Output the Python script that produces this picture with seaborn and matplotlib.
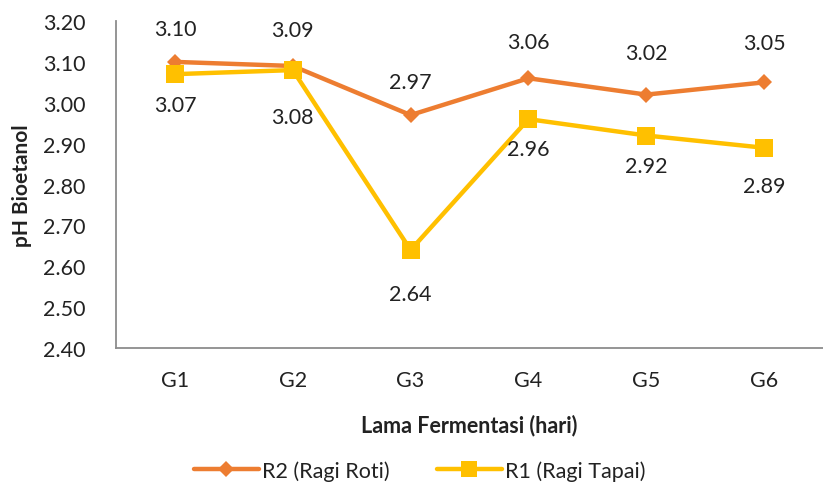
import numpy as np
import pandas as pd
import matplotlib as mpl
from matplotlib import pyplot as plt
import seaborn as sb

# data
groups = ["G1", "G2", "G3", "G4", "G5", "G6"]
ragi_roti = [3.10, 3.09, 2.97, 3.06, 3.02, 3.05]   # R2
ragi_tapai = [3.07, 3.08, 2.64, 2.96, 2.92, 2.89]  # R1
series_names = ["R2 (Ragi Roti)", "R1 (Ragi Tapai)"]
y_ticks = [2.40, 2.50, 2.60, 2.70, 2.80, 2.90, 3.00, 3.10, 3.20]

# label distance from the marker (px), as placed in the original
roti_gap = [33, 36, 33, 36, 42, 39]
tapai_gap = [31, 47, 44, 30, 30, 38]

sb.set_theme(style="white")
plt.rcParams["font.family"] = ["Lato", "DejaVu Sans"]
mpl.rcParams.update({
    "text.color": "#222222",
    "axes.labelcolor": "#222222",
    "xtick.color": "#222222",
    "ytick.color": "#222222",
})

fs = 15.5  # general text size

df = pd.DataFrame({
    "grup": groups * 2,
    "pH": ragi_roti + ragi_tapai,
    "seri": [series_names[0]] * 6 + [series_names[1]] * 6,
})
df["x"] = df["grup"].map({g: i for i, g in enumerate(groups)})

fig = plt.figure(figsize=(8.23, 4.89), dpi=100)
ax = fig.add_axes([0.141, 0.286, 0.859, 0.669])

colors = {series_names[0]: "#ED7D31", series_names[1]: "#FFC000"}
sb.lineplot(data=df, x="x", y="pH", hue="seri", style="seri",
            palette=colors, markers={series_names[0]: "D", series_names[1]: "s"},
            dashes=False, linewidth=3.2, markersize=11, markeredgewidth=0,
            ax=ax, legend=False)
# diamond smaller than the square
ax.lines[0].set_markersize(8)
ax.lines[1].set_markersize(13)

# data labels (px -> points at 100 dpi)
for i, v in enumerate(ragi_roti):
    ax.annotate(f"{v:.2f}", (i, v), xytext=(0, roti_gap[i] * 0.72), textcoords="offset points",
                ha="center", va="center", fontsize=fs)
for i, v in enumerate(ragi_tapai):
    ax.annotate(f"{v:.2f}", (i, v), xytext=(0, -tapai_gap[i] * 0.72), textcoords="offset points",
                ha="center", va="center", fontsize=fs)

ax.set_xlim(-0.5, len(groups) - 0.5)
ax.set_ylim(2.40, 3.20)
ax.set_xticks(range(len(groups)))
ax.set_xticklabels(groups, fontsize=fs)
ax.set_yticks(y_ticks)
ax.set_yticklabels([f"{t:.2f}" for t in y_ticks], fontsize=fs)
ax.tick_params(axis="x", length=0, pad=16)
ax.tick_params(axis="y", length=0, pad=22)

for s in ["top", "right"]:
    ax.spines[s].set_visible(False)
for s in ["left", "bottom"]:
    ax.spines[s].set_color("#8c8c8c")
    ax.spines[s].set_linewidth(1.3)

ax.set_xlabel("Lama Fermentasi (hari)", fontsize=fs, fontweight="bold", labelpad=17)
ax.set_ylabel("pH Bioetanol", fontsize=fs - 0.5, fontweight="bold", labelpad=8)

handles = [
    mpl.lines.Line2D([], [], color="#ED7D31", lw=3.2, marker="D", markersize=8, markeredgewidth=0),
    mpl.lines.Line2D([], [], color="#FFC000", lw=3.2, marker="s", markersize=12, markeredgewidth=0),
]
fig.legend(handles, series_names, loc="center", bbox_to_anchor=(0.51, 0.036),
           ncol=2, frameon=False, fontsize=fs, handlelength=3.0,
           columnspacing=2.2, handletextpad=0.15)

plt.savefig("out.png", dpi=100)
